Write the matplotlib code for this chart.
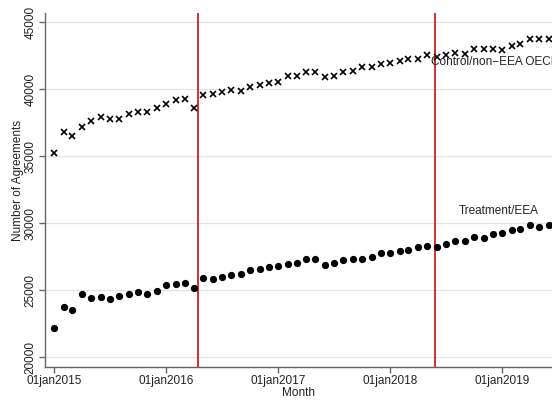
import matplotlib
matplotlib.use("Agg")
import matplotlib.pyplot as plt
import pandas as pd

months = pd.date_range("2015-01-01", periods=54, freq="MS")

control = [35271, 36788, 36539, 37211, 37634, 37932, 37783, 37783, 38131, 38281,
           38331, 38604, 38928, 39177, 39276, 38579, 39599, 39674, 39773, 39922,
           39848, 40171, 40296, 40470, 40569, 40967, 40967, 41316, 41316, 40893,
           41017, 41316, 41365, 41689, 41689, 41913, 41987, 42137, 42286, 42236,
           42534, 42385, 42559, 42734, 42609, 42982, 43032, 43032, 42958, 43256,
           43405, 43778, 43729, 43753]

treatment = [22211, 23778, 23554, 24724, 24450, 24500, 24375, 24599, 24699, 24898,
             24699, 24923, 25395, 25495, 25545, 25171, 25943, 25843, 26017, 26166,
             26216, 26539, 26564, 26738, 26788, 26987, 27062, 27360, 27360, 26913,
             27012, 27286, 27336, 27360, 27485, 27808, 27808, 27908, 28007, 28206,
             28306, 28231, 28480, 28654, 28654, 28977, 28928, 29201, 29301, 29500,
             29550, 29848, 29748, 29848]

event_dates = ["2016-04-14", "2018-05-25"]
xtick_dates = ["2015-01-01", "2016-01-01", "2017-01-01", "2018-01-01", "2019-01-01"]
xtick_labels = ["01jan2015", "01jan2016", "01jan2017", "01jan2018", "01jan2019"]
yticks = [20000, 25000, 30000, 35000, 40000, 45000]
series_labels = ["Control/non\u2212EEA OECD", "Treatment/EEA"]

plt.rcParams['font.family'] = ['Liberation Sans', 'DejaVu Sans']

W, H = 552, 401
fig = plt.figure(figsize=(W / 100, H / 100), dpi=100)
left, right, bottom, top = 45, 552, 367, 13
ax = fig.add_axes([left / W, 1 - bottom / H, (right - left) / W, (bottom - top) / H])

ax.plot(months, control, linestyle='none', marker='x', color='black',
        markersize=4.2, markeredgewidth=1.2, clip_on=False, zorder=3)
ax.plot(months, treatment, linestyle='none', marker='o', color='black',
        markersize=4.2, clip_on=False, zorder=3)

for d in event_dates:
    ax.axvline(pd.Timestamp(d), color='#d41c1c', linewidth=1.3, zorder=2)

ax.set_yticks(yticks)
ax.set_yticklabels([str(v) for v in yticks], rotation=90, va='center', fontsize=8.5)
ax.set_xticks([pd.Timestamp(d) for d in xtick_dates])
ax.set_xticklabels(xtick_labels, fontsize=8.5)

ax.set_ylim(19276, 45700)
ax.set_xlim(pd.Timestamp("2014-12-02"), pd.Timestamp("2019-06-12"))

ax.grid(axis='y', color='#dde6ee', linewidth=0.9)
ax.set_axisbelow(True)

for s in ['top', 'right']:
    ax.spines[s].set_visible(False)
for s in ['left', 'bottom']:
    ax.spines[s].set_color('#666666')
    ax.spines[s].set_linewidth(1.0)
ax.tick_params(axis='both', colors='#666666', length=4, width=1.0,
               labelcolor='#222222')
ax.tick_params(axis='y', pad=2)
ax.tick_params(axis='x', pad=2)

ax.set_ylabel("Number of Agreements", fontsize=8.5, color='#222222')
ax.yaxis.set_label_coords(-0.041, 0.528)
ax.set_xlabel("Month", fontsize=8.5, color='#222222', labelpad=0)

ax.text(pd.Timestamp("2018-05-15"), 42016, series_labels[0], fontsize=8.5,
        color='#222222', ha='left', va='center', clip_on=False)
ax.text(pd.Timestamp("2018-08-12"), 30941, series_labels[1], fontsize=8.5,
        color='#222222', ha='left', va='center', clip_on=False)

fig.savefig("out.png", dpi=100, facecolor='white')
